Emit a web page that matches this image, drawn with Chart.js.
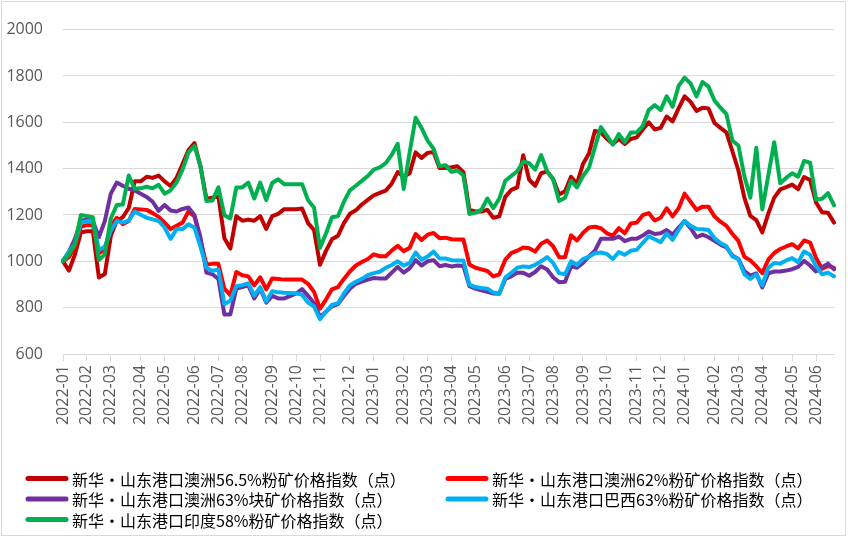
<!DOCTYPE html>
<html>
<head>
<meta charset="utf-8">
<script src="https://cdn.jsdelivr.net/npm/chart.js@4/dist/chart.umd.min.js"></script>
<style>
  html, body { margin: 0; padding: 0; background: #ffffff; }
  #wrap { width: 848px; height: 538px; }
</style>
</head>
<body>
<div id="wrap"><canvas id="c" width="848" height="538"></canvas></div>
<script>
// ---- categories: weekly observation dates (first week 2022-01-04) ----
const startDate = '2022-01-04';
const weekCount = 130;

// ---- series values (index points) ----
const seriesNames = [
  '新华・山东港口澳洲56.5%粉矿价格指数（点）',
  '新华・山东港口澳洲62%粉矿价格指数（点）',
  '新华・山东港口澳洲63%块矿价格指数（点）',
  '新华・山东港口巴西63%粉矿价格指数（点）',
  '新华・山东港口印度58%粉矿价格指数（点）'
];

const au565 = [
  1000,960,1030,1125,1130,1130,930,945,1110,1175,
  1190,1230,1345,1345,1365,1360,1370,1345,1325,1360,
  1420,1480,1510,1410,1270,1275,1280,1100,1055,1195,
  1175,1180,1175,1195,1140,1195,1205,1225,1225,1225,
  1228,1165,1135,985,1045,1095,1110,1165,1205,1220,
  1245,1265,1285,1295,1305,1335,1385,1365,1380,1470,
  1446,1468,1472,1403,1403,1406,1410,1385,1222,1215,
  1215,1222,1188,1194,1278,1308,1319,1458,1352,1326,
  1380,1388,1355,1288,1302,1365,1335,1420,1465,1563,
  1556,1528,1507,1528,1507,1528,1535,1569,1600,1569,
  1576,1625,1604,1660,1712,1688,1649,1663,1660,1597,
  1576,1556,1475,1393,1275,1196,1178,1125,1205,1275,
  1310,1320,1331,1312,1364,1351,1254,1212,1210,1167
];

const au62 = [
  1000,1018,1063,1149,1156,1156,1035,1049,1153,1188,
  1160,1174,1226,1224,1222,1208,1192,1167,1139,1153,
  1167,1215,1194,1090,986,989,989,882,854,954,
  940,935,896,931,879,926,924,921,921,921,
  921,903,868,796,835,879,889,924,956,982,
  997,1010,1030,1022,1022,1046,1067,1044,1058,1118,
  1092,1115,1122,1100,1102,1095,1094,1094,986,972,
  965,958,935,944,1007,1035,1046,1060,1056,1042,
  1076,1090,1065,1018,1018,1112,1090,1122,1146,1149,
  1143,1121,1111,1143,1121,1163,1167,1199,1208,1176,
  1188,1229,1194,1229,1292,1257,1222,1236,1236,1194,
  1171,1153,1118,1088,1020,1004,979,949,1007,1036,
  1053,1064,1074,1056,1090,1081,1014,968,980,972
];

const au63lump = [
  1000,1042,1097,1174,1181,1174,1104,1174,1292,1340,
  1326,1313,1306,1292,1278,1257,1218,1243,1219,1215,
  1226,1232,1199,1104,951,944,924,771,771,882,
  889,896,840,882,822,851,840,840,850,861,
  880,851,820,760,782,806,815,850,882,903,
  912,921,928,926,926,951,976,951,970,1005,
  982,1000,1005,979,984,978,982,980,893,882,
  875,868,861,860,924,935,951,951,938,954,
  979,965,931,910,912,979,972,993,1021,1046,
  1097,1097,1097,1107,1087,1097,1097,1111,1129,1118,
  1121,1135,1115,1146,1174,1143,1104,1115,1104,1088,
  1072,1060,1025,1010,958,938,948,887,948,956,
  956,960,966,976,1002,982,956,975,990,965
];

const br63 = [
  1004,1042,1076,1167,1174,1174,1049,1063,1132,1174,
  1167,1176,1215,1201,1188,1181,1174,1146,1097,1139,
  1139,1160,1145,1063,972,958,965,815,830,893,
  897,905,852,889,827,871,866,864,863,862,
  855,822,805,750,782,812,819,861,896,912,
  924,940,949,955,972,984,1000,982,993,1038,
  1007,1021,1042,1012,1012,1005,1004,1004,899,889,
  885,882,865,861,930,950,972,978,975,985,
  1000,1018,993,949,944,1000,984,1010,1020,1035,
  1038,1032,1010,1040,1028,1046,1050,1079,1108,1095,
  1083,1120,1093,1135,1175,1153,1140,1138,1135,1100,
  1079,1065,1021,1010,944,924,944,896,972,993,
  990,1004,1014,996,1042,1028,979,944,951,935
];

const in58 = [
  1000,1030,1075,1200,1195,1190,1005,1030,1185,1243,
  1245,1370,1313,1315,1322,1315,1330,1292,1306,1340,
  1396,1470,1498,1410,1260,1262,1319,1199,1185,1319,
  1319,1340,1271,1340,1264,1338,1354,1333,1333,1333,
  1333,1264,1232,1058,1120,1190,1194,1257,1306,1326,
  1347,1368,1396,1405,1424,1460,1507,1312,1470,1620,
  1575,1521,1486,1410,1415,1386,1392,1370,1204,1210,
  1222,1271,1229,1271,1347,1368,1389,1431,1424,1396,
  1458,1389,1354,1260,1274,1347,1319,1368,1403,1493,
  1579,1542,1504,1549,1514,1556,1556,1583,1653,1674,
  1653,1712,1667,1757,1792,1768,1712,1774,1754,1694,
  1663,1635,1521,1500,1368,1274,1490,1224,1370,1514,
  1337,1360,1380,1365,1433,1426,1266,1270,1294,1242
];

// ---- axis ticks ----
const yTicks = { min: 600, max: 2000, step: 200 };

const seriesColors = ['#C00000', '#FF0000', '#7030A0', '#00B0F0', '#00B050'];
const seriesData = [au565, au62, au63lump, br63, in58];

// weekly date labels
function pad(n) { return (n < 10 ? '0' : '') + n; }
const labels = [];
{
  const p = startDate.split('-').map(Number);
  for (let i = 0; i < weekCount; i++) {
    const d = new Date(Date.UTC(p[0], p[1] - 1, p[2] + 7 * i));
    labels.push(d.getUTCFullYear() + '-' + pad(d.getUTCMonth() + 1) + '-' + pad(d.getUTCDate()));
  }
}
const monthOf = (i) => labels[i].slice(0, 7);
const isMonthStart = (i) => i === 0 || monthOf(i) !== monthOf(i - 1);

const legendAndFrame = {
  id: 'legendAndFrame',
  afterDraw(chart) {
    const ctx = chart.ctx;
    ctx.save();
    chart.data.datasets.forEach((ds, i) => {
      const col = i % 2, row = Math.floor(i / 2);
      const x = col ? 446 : 26;
      const y = 478.5 + row * 20.5;
      ctx.strokeStyle = ds.borderColor;
      ctx.lineWidth = 5;
      ctx.lineCap = 'round';
      ctx.beginPath();
      ctx.moveTo(x + 2, y);
      ctx.lineTo(x + 40, y);
      ctx.stroke();
      ctx.fillStyle = '#000000';
      ctx.font = '16px "Noto Sans CJK SC"';
      ctx.textBaseline = 'middle';
      ctx.textAlign = 'left';
      ctx.fillText(ds.label, x + 46, y + 1);
    });
    ctx.strokeStyle = '#d9d9d9';
    ctx.lineWidth = 1;
    ctx.strokeRect(1.5, 1.5, 844, 534);
    ctx.restore();
  }
};

new Chart(document.getElementById('c'), {
  type: 'line',
  data: {
    labels: labels,
    datasets: seriesData.map((arr, i) => ({
      label: seriesNames[i],
      data: arr,
      borderColor: seriesColors[i],
      backgroundColor: seriesColors[i],
      borderWidth: 4,
      pointRadius: 0,
      pointHoverRadius: 0,
      tension: 0,
      fill: false,
      borderJoinStyle: 'round',
      borderCapStyle: 'round',
      order: seriesData.length - i
    }))
  },
  options: {
    responsive: false,
    animation: false,
    layout: { padding: { left: 0, right: 14, top: 18, bottom: 100 } },
    plugins: {
      legend: { display: false },
      tooltip: { enabled: false }
    },
    scales: {
      x: {
        type: 'category',
        offset: false,
        afterBuildTicks: (scale) => {
          scale.ticks = scale.ticks.filter(t => isMonthStart(t.value));
        },
        afterFit: (scale) => { scale.height = 84; },
        grid: {
          drawOnChartArea: false,
          drawTicks: true,
          tickLength: 7,
          color: '#d9d9d9'
        },
        border: { display: true, color: '#d9d9d9' },
        ticks: {
          autoSkip: false,
          maxRotation: 90,
          minRotation: 90,
          padding: 4,
          color: '#595959',
          font: { family: '"Open Sans"', size: 16 },
          callback: (value) => monthOf(value)
        }
      },
      y: {
        min: yTicks.min,
        max: yTicks.max,
        afterFit: (scale) => { scale.width = 63; },
        grid: { color: '#d9d9d9', drawTicks: false },
        border: { display: false },
        ticks: {
          stepSize: yTicks.step,
          padding: 20,
          color: '#595959',
          font: { family: '"Open Sans"', size: 16 },
          callback: (value) => String(value)
        }
      }
    }
  },
  plugins: [legendAndFrame]
});
</script>
</body>
</html>
